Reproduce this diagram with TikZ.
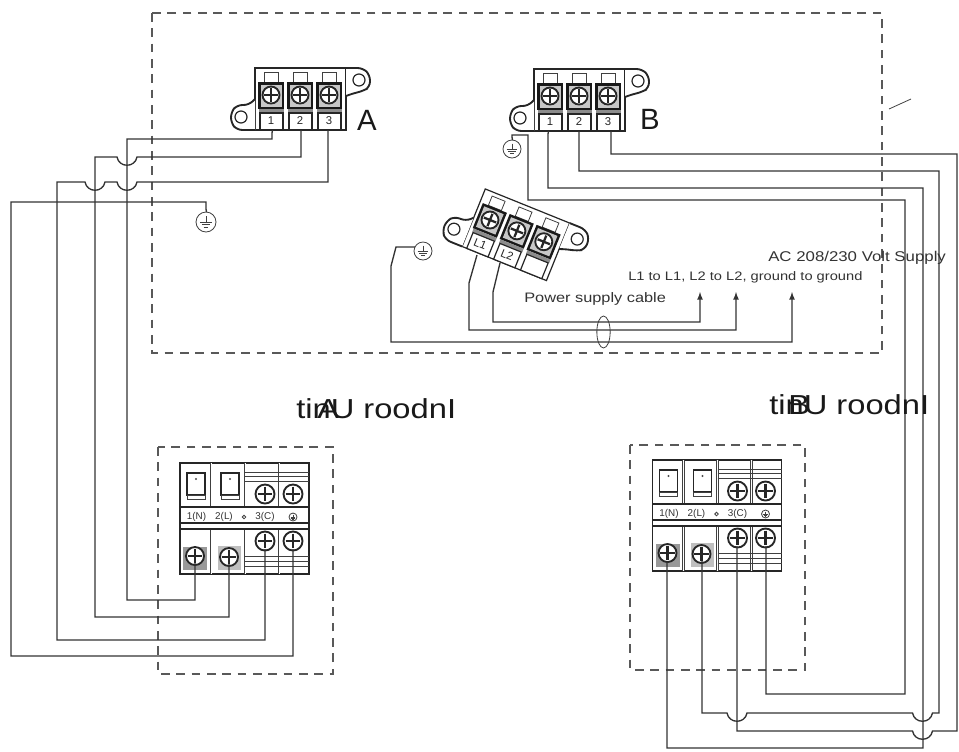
\documentclass[tikz,border=0pt]{standalone}
\usepackage{fontspec}
\usetikzlibrary{shapes.geometric}
\setmainfont{Liberation Sans}
\newfontfamily\widesans[FakeStretch=1.19]{Liberation Sans}
\tikzset{
  wire/.style={draw=black!80,line width=1pt},
  dash box/.style={draw=black!65,line width=0.9pt,dash pattern=on 6.5pt off 5pt},
  blk/.style={draw=black!85,line width=0.9pt},
  thick blk/.style={draw=black!85,line width=1.4pt},
  thin blk/.style={draw=black!75,line width=0.6pt},
  note/.style={inner sep=0pt,text=black!80,font=\widesans\fontsize{10.6}{12}\selectfont},
  note small/.style={inner sep=0pt,text=black!80,font=\widesans\fontsize{9.25}{11}\selectfont},
  note mid/.style={inner sep=0pt,text=black!80,font=\widesans\fontsize{10.3}{12}\selectfont},
  big/.style={inner sep=0pt,font=\fontsize{22}{24}\selectfont,text=black!90},
  title/.style={inner sep=0pt,font=\widesans\fontsize{20.6}{24}\selectfont,text=black!90},
  num/.style={inner sep=0pt,font=\fontsize{8.5}{9}\selectfont,text=black!85},
  tiny/.style={inner sep=0pt,font=\fontsize{7.4}{8}\selectfont,text=black!80}
}
\newcommand{\hopat}[2]{-- (#1+10,#2) .. controls (#1+8,#2+11) and (#1-8,#2+11) .. (#1-10,#2)}
% a faintly bent stub, so all wires are rendered with the same weight
\newcommand{\stub}[2]{(#1+0.5,#2) -- (#1,#2+3)}
\newcommand{\myscrew}[3]{%
  \draw[line width=1.4pt,draw=black!85,fill=white] (#1,#2) circle (#3);
  \draw[line width=1.7pt,black!85] (#1-#3*0.78,#2) -- (#1+#3*0.78,#2) (#1,#2-#3*0.78) -- (#1,#2+#3*0.78);
}
\newcommand{\myground}[3]{%
  \draw[thin blk,fill=white] (#1,#2) circle (#3);
  \draw[thin blk] (#1,#2-#3*0.6) -- (#1,#2)
    (#1-#3*0.6,#2) -- (#1+#3*0.6,#2)
    (#1-#3*0.42,#2+#3*0.25) -- (#1+#3*0.42,#2+#3*0.25)
    (#1-#3*0.24,#2+#3*0.5) -- (#1+#3*0.24,#2+#3*0.5);
}
\newcommand{\myblock}[3]{%
  \draw[blk,fill=white] (-16,35) -- (-16,-27) -- (75,-27) -- (75,35) -- cycle;
  \draw[thick blk,fill=white,rounded corners=4pt] (75,-27) -- (92,-27) -- (99,-20) -- (99,-8) -- (92,-4) -- (80,-1) -- (75,1);
  \draw[thick blk,fill=white,rounded corners=4pt] (-16,35) -- (-34,35) -- (-40,28) -- (-40,17) -- (-34,10) -- (-22,10) -- (-16,4);
  \draw[blk] (88,-15) circle (6);
  \draw[blk] (-30,22) circle (6);
  \foreach \cx in {0,29,58}{%
    \draw[thin blk,fill=white] (\cx-7,-23) rectangle (\cx+7,-13);
    \fill[black!90] (\cx-13,-13) rectangle (\cx+13,14);
    \fill[black!22] (\cx-10.5,-10.5) rectangle (\cx+10.5,11.5);
    \myscrew{\cx}{0}{8.5}
    \fill[black!45] (\cx-12,14) rectangle (\cx+13,18);
    \draw[blk,fill=white] (\cx-11,18) rectangle (\cx+12,35);
  }
  \node[num,transform shape] (n1) at (0,26) {#1};
  \node[num,transform shape] (n2) at (29,26) {#2};
  \node[num,transform shape] (n3) at (58,26) {#3};
}
\newcommand{\myunit}{%
  \draw[blk,fill=white] (0,0) rectangle (129,111);
  \foreach \lx in {31,65,99}{\draw[thin blk,double distance=0.6pt] (\lx,0) -- (\lx,44) (\lx,66) -- (\lx,111);}
  \draw[blk] (0,44) -- (129,44) (0,60) -- (129,60) (0,66) -- (129,66);
  \draw[thin blk] (65,9) -- (129,9) (65,13) -- (129,13) (65,18) -- (129,18);
  \draw[thin blk] (65,93) -- (129,93) (65,98) -- (129,98) (65,103) -- (129,103);
  \foreach \bx in {7,41}{\draw[blk,fill=white] (\bx,10) rectangle (\bx+18,32); \draw[thin blk] (\bx,32) rectangle (\bx+18,36); \fill[black!70] (\bx+9,16) circle (1.2);}
  \fill[black!40] (3,84) rectangle (27,107);
  \fill[black!25] (38,83) rectangle (61,107);
  \myscrew{15}{93}{9}
  \myscrew{49}{94}{9}
  \myscrew{85}{78}{9.5}
  \myscrew{113}{78}{9.5}
  \myscrew{85}{31}{9.5}
  \myscrew{113}{31}{9.5}
  \node[tiny] (u1) at (16.5,54) {1(N)};
  \node[tiny] (u2) at (44,54) {2(L)};
  \draw[thin blk] (64,54) circle (1.8);
  \node[tiny] (u3) at (85,54) {3(C)};
  \myground{113}{54}{4}
}
\begin{document}
\begin{tikzpicture}[x=0.75pt,y=-0.75pt]
\useasboundingbox (0,0) rectangle (959,751);
\fill[white] (0,0) rectangle (959,751);
\draw[dash box] (152,13) rectangle (882,353);
\draw[dash box] (158,447) rectangle (333,674);
\draw[dash box] (630,445) rectangle (805,670);
\coordinate (s1) at (889,109); \coordinate (s2) at (911,99);
\draw[thin blk] (s1) -- (s2);
\begin{scope}[shift={(271,95)}] \myblock{1}{2}{3} \end{scope}
\begin{scope}[shift={(550,96)}] \myblock{1}{2}{3} \end{scope}
\begin{scope}[shift={(490,220)},rotate=-22] \myblock{L1}{L2}{} \end{scope}
\begin{scope}[shift={(180,463)}] \myunit \end{scope}
\begin{scope}[shift={(652.5,460)}] \myunit \end{scope}
\myground{206}{222}{10}
\myground{512}{149}{9}
\myground{423}{251}{9}
\draw[wire] \stub{272}{130} -- (272,139) -- (127,139) -- (127,600) -- (195,600) -- (195,563);
\draw[wire] (301,130) -- (301,157) \hopat{127}{157} -- (95,157) -- (95,617) -- (229,617) -- (229,564);
\draw[wire] (328,130) -- (328,182) \hopat{127}{182} \hopat{95}{182} -- (57,182) -- (57,640) -- (265,640) -- (265,549);
\draw[wire] (206.5,212) -- (206,209) -- (206,202) -- (11,202) -- (11,656) -- (293,656) -- (293,549);
\draw[wire] \stub{548}{131} -- (548,188) -- (923,188) -- (923,748) -- (667,748) -- (667,562);
\draw[wire] (579,131) -- (579,171) -- (939,171) -- (939,713) \hopat{922.5}{713} \hopat{737}{713} -- (702,713) -- (702,561);
\draw[wire] (611,131) -- (611,154) -- (957,154) -- (957,731) \hopat{922.5}{731} -- (737,731) -- (737,546);
\draw[wire] (512.5,140) -- (512,137) -- (512,135) -- (528,135) -- (528,200) -- (905,200) -- (905,694) -- (766,694) -- (766,546);
\coordinate (gc) at (415,247);
\draw[wire,-latex] (477,255) -- (469,283) -- (469,330) -- (736,330) -- (736,292);
\draw[wire,-latex] (500,263) -- (493,292) -- (493,322) -- (700,322) -- (700,292);
\draw[wire,-latex] (gc) -- (396,247) -- (391,266) -- (391,342) -- (792,342) -- (792,292);
\node[thin blk,ellipse,inner sep=0pt,minimum width=10pt,minimum height=24pt] (cable) at (603.5,332) {};
\node[big] (la) at (367,120) {A};
\node[big] (lb) at (650,119) {B};
\node[note,anchor=west] (t1) at (768,258) {AC 208/230 Volt Supply};
\node[note small,anchor=west] (t2) at (628,277) {L1 to L1, L2 to L2, ground to ground};
\node[note mid,anchor=west] (t3) at (524,299) {Power supply cable};
\node[title,anchor=west] (ua) at (296,409) {tinU roodnI};
\node[title,anchor=west] (ua2) at (317,409) {A};
\node[title,anchor=west] (ub) at (769,405) {tinU roodnI};
\node[title,anchor=west] (ub2) at (788,405) {B};
\end{tikzpicture}
\end{document}
